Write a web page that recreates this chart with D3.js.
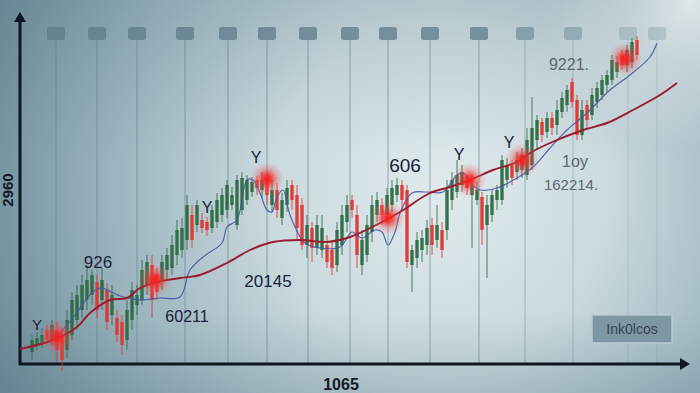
<!DOCTYPE html>
<html><head><meta charset="utf-8">
<script src="https://cdn.jsdelivr.net/npm/d3@7/dist/d3.min.js"></script>
<style>html,body{margin:0;padding:0;overflow:hidden;background:#b5c9cf}</style>
</head><body><svg id="c" width="700" height="393"></svg>
<script>
// ---------- DATA ----------
const candleOpen  = [11,18,21,33,23,33,28,13,28,43,53,63,68,81,63,73,48,45,41,23,43,58,63,78,98,88,81,93,95,108,113,123,148,138,143,141,135,141,148,153,158,138,153,163,171,183,173,185,158,173,145,158,178,168,158,118,135,115,113,118,113,98,118,141,163,148,98,108,131,148,158,148,158,168,178,173,98,105,113,118,138,123,133,133,163,171,178,183,168,163,166,138,148,163,163,183,198,191,193,188,198,223,241,231,245,238,251,258,281,263,228,258,248,261,268,278,283,291,308,298,301,323];
const candleHigh  = [28,31,35,38,43,41,35,53,71,78,88,98,93,88,95,80,78,53,48,63,81,78,103,108,108,95,108,115,128,143,145,168,158,163,150,146,158,170,175,183,176,188,191,188,186,187,191,191,183,180,170,183,183,178,165,148,141,148,148,128,123,141,158,168,168,158,133,148,168,171,165,175,183,185,183,178,118,131,133,143,145,158,141,183,191,203,198,188,188,181,171,168,173,178,208,205,203,211,215,235,266,248,245,251,251,263,271,278,285,268,263,263,275,281,288,293,308,307,313,318,325,327];
const candleLow   = [3,13,15,18,18,1,-8,5,23,33,45,53,58,45,53,33,38,21,8,13,33,48,58,68,45,63,73,83,88,98,105,113,115,131,130,127,130,135,141,145,153,133,148,158,166,168,165,158,151,145,138,151,153,123,113,105,101,108,105,95,88,91,108,131,145,95,88,101,121,141,138,141,151,161,153,95,71,95,101,108,108,115,105,123,153,165,171,168,115,158,118,85,141,153,158,175,178,183,185,183,193,213,221,225,228,228,245,251,255,223,223,235,243,255,263,271,278,285,293,291,295,303];
const candleClose = [23,25,28,23,38,13,3,43,63,68,78,83,88,53,83,41,68,28,18,53,73,68,93,101,63,71,101,108,118,133,135,158,123,158,135,133,153,163,168,178,168,183,185,183,181,175,183,168,173,153,163,175,163,135,118,138,115,138,135,101,95,133,148,158,153,108,123,138,158,163,148,168,175,178,163,101,113,123,125,135,118,138,113,173,183,188,191,175,178,173,133,158,168,173,203,198,185,203,208,223,235,243,228,245,235,253,265,273,261,228,253,243,268,275,283,288,303,301,298,313,321,308];

// moving-average style lines: [candle index, value]
const redLine = [[-2.4,14],[4.2,23],[9,36],[11.6,50],[15.6,63],[19,65],[21.6,75],[25,81],[29.6,85],[33.6,88],[39,100],[43.6,113],[48.2,121],[53.6,123],[59,121],[63.6,126],[69.6,140],[73.6,151],[79.6,170],[83.6,176],[87.6,183],[92.2,193],[97,201],[99.6,210],[103.6,220],[110.2,233],[115,240],[120.2,253],[125.6,268],[129,280]];
const blueLine = [[5,26],[8.6,48],[11.6,68],[13.6,75],[17.6,67],[21.6,63],[25.6,65],[29.6,66],[31.6,93],[34.2,106],[38,120],[39,136],[41,143],[43,183],[44.2,183],[45.6,170],[47,153],[48,151],[49,166],[50.2,173],[51.6,148],[54.6,120],[57.6,115],[61.6,116],[64,131],[66,125],[68.6,133],[70,131],[71.2,118],[72.6,131],[73.6,150],[76,170],[79,171],[82.2,171],[85,188],[86.2,190],[87.6,181],[89.6,173],[93,175],[97,185],[100.2,196],[103.6,215],[107,233],[111,250],[115.6,273],[119.6,288],[123.6,306],[125,320]];

// highlighted points: [candle index, value]
const glowPoints = [[5,26],[24.6,83],[47,184],[71.2,145],[87.4,183],[98,203],[118.6,304]];

// vertical grid positions (candle index)
const gridIdx = [4.8,13,21,30.6,39.2,47,55.2,63.6,71.2,79.6,89.4,98.6,108.2,119.2,125];

// annotations: [text, candle index, value, size, colour key]
const labels = [
  ["Y",1,33,15,"d"],["926",13.2,95,17,"d"],["60211",31,41,16,"d"],["Y",35,150,16,"d"],
  ["20145",47.2,76,17,"d"],["Y",44.8,200,16,"d"],["606",74.6,191,19,"d"],["Y",85.4,203,16,"d"],
  ["Y",95.4,215,16,"d"],["9221.",107.4,293,16,"g"],["1oy",108.6,196,16,"g"],["162214.",107.8,173,15,"g"]
];
const xTitle = "1065";
const yTitle = "2960";
const legendText = "Ink0lcos";

// ---------- CHART ----------
const svg = d3.select("#c");
const W = 700, H = 393;
const x = d3.scaleLinear().domain([0,121]).range([32,637]);
const y = d3.scaleLinear().domain([0,330]).range([363,33]);
const defs = svg.append("defs");

const bg = defs.append("radialGradient").attr("id","bg").attr("gradientUnits","userSpaceOnUse")
  .attr("cx",440).attr("cy",190).attr("r",480);
bg.append("stop").attr("offset","0%").attr("stop-color","#e0eaec");
bg.append("stop").attr("offset","35%").attr("stop-color","#cbdade");
bg.append("stop").attr("offset","70%").attr("stop-color","#98b2bc");
bg.append("stop").attr("offset","100%").attr("stop-color","#6a8a97");
svg.append("rect").attr("width",W).attr("height",H).attr("fill","url(#bg)");

const glowTR = defs.append("radialGradient").attr("id","gtr").attr("gradientUnits","userSpaceOnUse")
  .attr("cx",690).attr("cy",0).attr("r",150);
glowTR.append("stop").attr("offset","0%").attr("stop-color","#ffffff").attr("stop-opacity",0.95);
glowTR.append("stop").attr("offset","45%").attr("stop-color","#f4f8f9").attr("stop-opacity",0.5);
glowTR.append("stop").attr("offset","100%").attr("stop-color","#ffffff").attr("stop-opacity",0);
svg.append("rect").attr("width",W).attr("height",H).attr("fill","url(#gtr)");

const vshade = defs.append("linearGradient").attr("id","vs").attr("x1",0).attr("y1",0).attr("x2",0).attr("y2",1);
vshade.append("stop").attr("offset","0%").attr("stop-color","#4e6f7d").attr("stop-opacity",0.15);
vshade.append("stop").attr("offset","40%").attr("stop-color","#4e6f7d").attr("stop-opacity",0);
vshade.append("stop").attr("offset","80%").attr("stop-color","#4e6f7d").attr("stop-opacity",0);
vshade.append("stop").attr("offset","100%").attr("stop-color","#4e6f7d").attr("stop-opacity",0.2);
svg.append("rect").attr("width",W).attr("height",H).attr("fill","url(#vs)");

// grid lines + top markers
const gridG = svg.append("g");
gridIdx.forEach((g,i)=>{
  const op = i < 11 ? 0.75 : (i < 12 ? 0.55 : (i < 13 ? 0.4 : 0.25));
  gridG.append("line").attr("x1",x(g)).attr("x2",x(g)).attr("y1",40).attr("y2",363)
    .attr("stroke","#64808c").attr("stroke-width",1).attr("opacity",op*0.85);
  gridG.append("rect").attr("x",x(g)-9).attr("y",27).attr("width",18).attr("height",13).attr("rx",2.5)
    .attr("fill","#5d7b88").attr("opacity",op);
});

// axes
const xAxis = d3.axisBottom(x).ticks(0).tickSizeOuter(0);
const yAxis = d3.axisLeft(y).ticks(0).tickSizeOuter(0);
const gx = svg.append("g").attr("transform","translate(0,364)").call(xAxis);
gx.select(".domain").attr("d","M19,0H680").attr("stroke","#10161f").attr("stroke-width",3);
const gy = svg.append("g").attr("transform","translate(20,0)").call(yAxis);
gy.select(".domain").attr("d","M0,365V20").attr("stroke","#10161f").attr("stroke-width",3);
svg.append("path").attr("d","M680,358 L690,364 L680,370 Z").attr("fill","#10161f");
svg.append("path").attr("d","M14,22 L20,12 L26,22 Z").attr("fill","#10161f");

svg.append("text").attr("x",341).attr("y",390).attr("text-anchor","middle")
  .attr("font-family","Liberation Sans, Arial, sans-serif").attr("font-weight","bold").attr("font-size",16)
  .attr("fill","#141a24").text(xTitle);
svg.append("text").attr("transform","translate(13,190) rotate(-90)").attr("text-anchor","middle")
  .attr("font-family","Liberation Sans, Arial, sans-serif").attr("font-weight","bold").attr("font-size",15)
  .attr("fill","#141a24").text(yTitle);

// candles
const idx = d3.range(candleOpen.length);
const GREEN = "#2c6a42", RED = "#e2342f";
const cg = svg.append("g");
cg.selectAll("line.w").data(idx).join("line").attr("class","w")
  .attr("x1",i=>x(i)).attr("x2",i=>x(i))
  .attr("y1",i=>y(candleHigh[i])).attr("y2",i=>y(candleLow[i]))
  .attr("stroke",i=>candleClose[i]>=candleOpen[i]?GREEN:RED).attr("stroke-width",1).attr("opacity",0.85);
cg.selectAll("rect.b").data(idx).join("rect").attr("class","b")
  .attr("x",i=>x(i)-1.7).attr("width",3.4)
  .attr("y",i=>y(Math.max(candleOpen[i],candleClose[i])))
  .attr("height",i=>Math.max(1,Math.abs(y(candleOpen[i])-y(candleClose[i]))))
  .attr("fill",i=>candleClose[i]>=candleOpen[i]?GREEN:RED).attr("opacity",0.92);

// lines
const lineGen = d3.line().x(d=>x(d[0])).y(d=>y(d[1])).curve(d3.curveCatmullRom);
svg.append("path").datum(blueLine).attr("d",lineGen).attr("fill","none")
  .attr("stroke","#4656a6").attr("stroke-width",1.2).attr("opacity",0.9);
svg.append("path").datum(redLine).attr("d",lineGen).attr("fill","none")
  .attr("stroke","#9a1b2e").attr("stroke-width",1.9);

// glow points
const gl = defs.append("radialGradient").attr("id","glow");
gl.append("stop").attr("offset","0%").attr("stop-color","#ff1a1a").attr("stop-opacity",1);
gl.append("stop").attr("offset","28%").attr("stop-color","#f22a2a").attr("stop-opacity",0.8);
gl.append("stop").attr("offset","62%").attr("stop-color","#f04848").attr("stop-opacity",0.3);
gl.append("stop").attr("offset","100%").attr("stop-color","#f06060").attr("stop-opacity",0);
svg.selectAll("circle.g").data(glowPoints).join("circle").attr("class","g")
  .attr("cx",d=>x(d[0])).attr("cy",d=>y(d[1])).attr("r",17).attr("fill","url(#glow)");

// labels
svg.selectAll("text.l").data(labels).join("text").attr("class","l")
  .attr("x",d=>x(d[1])).attr("y",d=>y(d[2])).attr("text-anchor","middle")
  .attr("font-family","Liberation Sans, Arial, sans-serif").attr("font-size",d=>d[3])
  .attr("fill",d=>d[4]==="d"?"#18223a":"#5d666f").text(d=>d[0]);

// legend box
svg.append("rect").attr("x",592).attr("y",315).attr("width",80).attr("height",28)
  .attr("fill","#7f97a4").attr("stroke","#b9cbd1").attr("stroke-width",1.5);
svg.append("text").attr("x",632).attr("y",334).attr("text-anchor","middle")
  .attr("font-family","Liberation Sans, Arial, sans-serif").attr("font-size",14)
  .attr("fill","#34424f").text(legendText);
</script></body></html>
